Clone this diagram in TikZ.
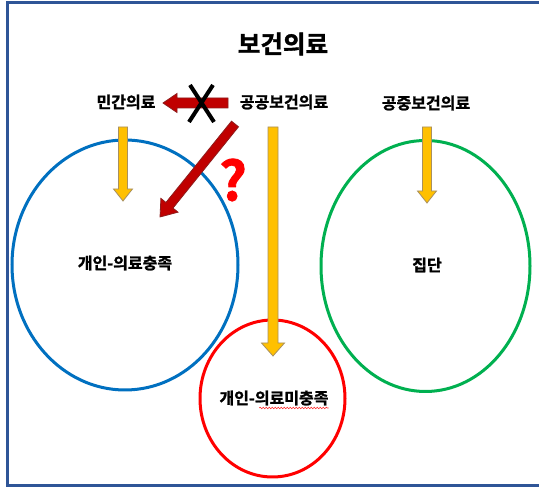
\documentclass[tikz,border=0pt]{standalone}
\usepackage{fontspec}
\setmainfont{Noto Sans CJK KR}[BoldFont={Noto Sans CJK KR Bold}, BoldFeatures={FakeBold=1.5}]
\usetikzlibrary{calc,decorations.pathmorphing}
\definecolor{frameblue}{HTML}{2F5597}
\definecolor{circblue}{HTML}{0070C0}
\definecolor{circgreen}{HTML}{00B050}
\definecolor{circred}{HTML}{FF0000}
\definecolor{arrowyellow}{HTML}{FFC000}
\definecolor{arrowyellowline}{HTML}{A89060}
\definecolor{arrowred}{HTML}{C00000}
\definecolor{arrowredline}{HTML}{8E1C1C}
\tikzset{
  pics/barrow/.style args={#1/#2/#3/#4}{code={%
    \path[pic actions] (0,-#2) -- ({#1-#4},-#2) -- ({#1-#4},-#3) -- ({#1},0)
      -- ({#1-#4},#3) -- ({#1-#4},#2) -- (0,#2) -- cycle;}},
  yarrow/.style={fill=arrowyellow, draw=arrowyellowline, line width=0.8pt, line join=miter},
  rarrow/.style={fill=arrowred, draw=arrowredline, line width=0.8pt, line join=miter},
  label/.style={font=\bfseries\fontsize{16}{19}\selectfont, inner sep=0pt},
  group/.style={line width=3pt},
  squiggle/.style={draw=red!85!white, line width=0.6pt, decorate,
    decoration={snake, amplitude=0.8pt, segment length=3pt}},
}
\newcommand\blockarrow[4]{%
  \path let \p1=(#2), \p2=(#3), \n1={atan2(\y2-\y1,\x2-\x1)},
    \n2={veclen(\x2-\x1,\y2-\y1)} in (\p1) pic[rotate=\n1,#1] {barrow={\n2}/#4};}
\begin{document}
\begin{tikzpicture}[x=1pt,y=1pt]
\useasboundingbox (0,0) rectangle (539,487);
\fill[white] (0,0) rectangle (539,487);
% frame
\draw[frameblue, line width=3pt] (560,484) -- (7.5,484) -- (7.5,1.5) -- (560,1.5);
% title
\node[font=\bfseries\fontsize{24.5}{29}\selectfont, inner sep=0pt] (title) at (283,443) {보건의료};
% top labels
\node[label] (private) at (126,385) {민간의료};
\node[label] (publichc) at (284,385) {공공보건의료};
\node[label] (publich) at (426,384) {공중보건의료};
% groups
\draw[group, circblue] (125,222) ellipse [x radius=113, y radius=125];
\draw[group, circgreen] (425.5,221) ellipse [x radius=104.5, y radius=125.5];
\draw[group, circred] (272.5,88.5) ellipse [x radius=72.5, y radius=78.5];
\node[label] (met) at (125,224) {개인-의료충족};
\node[label] (grp) at (427,222) {집단};
\node[label] (unmet) at (274,89) {개인-의료미충족};
\draw[squiggle] ($(unmet.base west)+(40,-4)$) -- ($(unmet.base east)+(0,-4)$);
% arrow anchors
\coordinate (yl1) at (123,360); \coordinate (yl2) at (123,286);
\coordinate (yc1) at (273,360); \coordinate (yc2) at (273,131);
\coordinate (yr1) at (427,360); \coordinate (yr2) at (427,284);
\coordinate (rh1) at (228,384); \coordinate (rh2) at (163,384);
\coordinate (rd1) at (235,363); \coordinate (rd2) at (160,270);
% arrows
\blockarrow{yarrow}{yl1}{yl2}{4.5/9.5/12}
\blockarrow{yarrow}{yc1}{yc2}{5/11.5/13}
\blockarrow{yarrow}{yr1}{yr2}{4.5/9.5/12}
\blockarrow{rarrow}{rh1}{rh2}{5/9.5/14}
\blockarrow{rarrow}{rd1}{rd2}{4.5/11/15}
% cross
\draw[black, line width=4pt] (190,402) -- (214,365) (213,402) -- (189,365);
% question mark
\node[font=\bfseries\fontsize{54}{60}\selectfont, text=red, inner sep=0pt] (q) at (233,307) {?};
\end{tikzpicture}
\end{document}
